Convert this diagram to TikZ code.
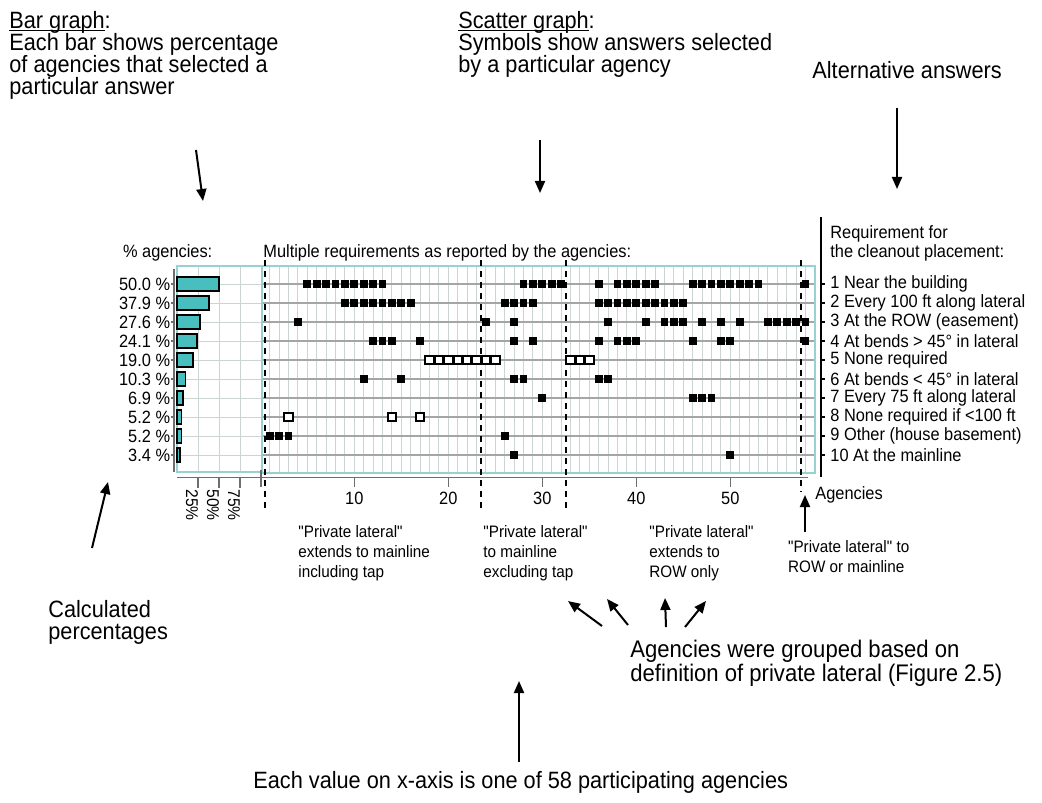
\documentclass[tikz,border=0pt]{standalone}
\usepackage{fontspec}
\setmainfont{Liberation Sans}[FakeStretch=0.92, Ligatures=TeXOff]
\usetikzlibrary{arrows.meta}
\setlength{\lineskiplimit}{-20pt}

\definecolor{barteal}{RGB}{72,190,190}
\definecolor{framecyan}{RGB}{150,210,210}
\definecolor{gridgray}{RGB}{205,212,212}
\definecolor{rowgray}{RGB}{165,165,165}
\definecolor{axisgray}{RGB}{110,110,110}

% underline close to the baseline
\newcommand{\headline}[1]{\setbox0\hbox{#1}\rlap{\rule[-1.3pt]{\wd0}{0.6pt}}\box0}

\tikzset{
  big/.style={font=\fontsize{11.8}{11}\selectfont, inner sep=0pt, align=left},
  lbl/.style={font=\fontsize{8.9}{9.5}\selectfont, inner sep=0pt},
  small/.style={font=\fontsize{8.5}{9}\selectfont, inner sep=0pt},
  grp/.style={font=\fontsize{8.3}{10}\selectfont, inner sep=0pt, align=left},
  pointer/.style={line width=1pt, -{Triangle[length=6pt,width=5pt]}},
  hit/.style={fill=black},
  openhit/.style={fill=white, draw=black, line width=1pt},
  split/.style={black, line width=1.1pt, dash pattern=on 3pt off 2.5pt},
}

\begin{document}
\begin{tikzpicture}[x=0.5pt, y=-0.5pt]
  \useasboundingbox (0,0) rectangle (1042,802);

  % explanations
  \node[big, anchor=north west] (bargraph) at (9,11)
    {\headline{Bar graph}:\\Each bar shows percentage\\of agencies that selected a\\particular answer};
  \node[big, anchor=north west] (scattergraph) at (458,11)
    {\headline{Scatter graph}:\\Symbols show answers selected\\by a particular agency};
  \node[big, anchor=base west] (alternatives) at (812,79) {Alternative answers};
  \node[big, anchor=north west] (calculated) at (48,600) {Calculated\\percentages};
  \node[big, anchor=north west, font=\fontsize{12}{12}\selectfont] (grouped) at (630,640)
    {Agencies were grouped based on\\definition of private lateral (Figure 2.5)};
  \node[big, anchor=base west] (eachvalue) at (253,788)
    {Each value on x-axis is one of 58 participating agencies};

  % bar panel
  \foreach \p in {25,50,75}
    \draw[gridgray, line width=0.5pt] ({177+0.84*\p},266) -- ({177+0.84*\p},472);
  \foreach \r in {1,...,10}
    \draw[gridgray, line width=0.5pt] (177,{265+19*\r}) -- (262,{265+19*\r});
  \draw[framecyan, line width=0.7pt] (177,266) rectangle (262,472);
  \foreach \r/\p in {1/50.0,2/37.9,3/27.6,4/24.1,5/19.0,6/10.3,7/6.9,8/5.2,9/5.2,10/3.4} {
    \draw[fill=barteal, line width=0.8pt] (177,{265+19*\r-7}) rectangle ({177+0.84*\p},{265+19*\r+7});
    \draw[axisgray, line width=0.6pt] (171,{265+19*\r}) -- (174,{265+19*\r});
    \node[lbl, anchor=east] (pct\r) at (170.5,{265+19*\r}) {\p{} \%};
  }
  \draw[axisgray, line width=0.7pt] (174,269) -- (174,472);
  \node[lbl, anchor=west] (sharehead) at (122.7,253) {\% agencies:};

  % scatter panel
  \foreach \a in {1,...,58}
    \draw[gridgray, line width=0.5pt] ({260.3+9.4*\a},266) -- ({260.3+9.4*\a},473);
  \foreach \r in {1,...,10}
    \draw[rowgray, line width=0.6pt] (262,{265+19*\r}) -- (815,{265+19*\r});
  \draw[framecyan, line width=0.7pt] (262,266) rectangle (815,473);
  \node[lbl, anchor=west] (multihead) at (263,253) {Multiple requirements as reported by the agencies:};

  % axes
  \draw[axisgray, line width=0.8pt] (177,477.5) -- (808,477.5);
  \draw[axisgray, line width=0.8pt] (261,470) -- (261,487);
  \foreach \p in {25,50,75} {
    \draw[axisgray, line width=0.8pt] ({177+0.84*\p},477.5) -- ++(0,10);
    \node[small, rotate=-90, anchor=west] (share\p) at ({171+0.84*\p},489) {\p\%};
  }
  \foreach \t in {10,20,...,50} {
    \draw[axisgray, line width=0.8pt] ({260.3+9.4*\t},477.5) -- ++(0,9);
    \node[lbl] (tick\t) at ({260.3+9.4*\t},498) {\t};
  }
  \node[lbl, anchor=west] (agencies) at (815,495) {Agencies};

  % answers per agency
  \foreach \r/\list in {
      1/{5,6,7,8,9,10,11,12,13,28,29,30,31,32,36,38,39,40,41,42,46,47,48,49,50,51,52,53,58},
      2/{9,10,11,12,13,14,15,16,26,27,28,29,36,37,38,39,40,41,42,43,44,45},
      3/{4,24,27,37,41,43,44,45,47,49,51,54,55,56,57,58},
      4/{12,13,14,17,27,29,36,38,39,40,46,49,50,58},
      6/{11,15,27,28,36,37},
      7/{30,46,47,48},
      9/{1,2,3,26},
      10/{27,50}}
    \foreach \a in \list
      \fill[hit] ({260.3+9.4*\a-3.9},{265+19*\r-3.9}) rectangle ++(7.8,7.8);
  \foreach \r/\list in {5/{18,19,20,21,22,23,24,25,33,34,35}, 8/{3,14,17}}
    \foreach \a in \list
      \draw[openhit] ({260.3+9.4*\a-4.2},{265+19*\r-4.2}) rectangle ++(8.4,8.4);

  % group borders
  \foreach \s in {0.5,23.5,32.5}
    \draw[split] ({260.3+9.4*\s},260) -- ++(0,252);
  \draw[split] ({260.3+9.4*57.5},260) -- ++(0,232);

  % legend of answers
  \draw[black, line width=0.8pt] (820.7,217) -- (820.7,477);
  \node[lbl, align=left, anchor=west] (reqtitle) at (830,243) {Requirement for\\the cleanout placement:};
  \foreach \r/\txt in {1/1 Near the building, 2/2 Every 100 ft along lateral,
      3/3 At the ROW (easement), 4/4 At bends > 45° in lateral, 5/5 None required,
      6/6 At bends < 45° in lateral, 7/7 Every 75 ft along lateral,
      8/8 None required if <100 ft, 9/9 Other (house basement), 10/10 At the mainline} {
    \draw[black, line width=0.6pt] (820.7,{265+19*\r}) -- (824.5,{265+19*\r});
    \node[lbl, anchor=west] (req\r) at (830,{265+19*\r}) {\txt};
  }

  % group names
  \node[grp, anchor=west] (grpA) at (298,553.5) {"Private lateral"\\extends to mainline\\including tap};
  \node[grp, anchor=west] (grpB) at (483,553.5) {"Private lateral"\\to mainline\\excluding tap};
  \node[grp, anchor=west] (grpC) at (649,553.5) {"Private lateral"\\extends to\\ROW only};
  \node[grp, anchor=west] (grpD) at (787.7,557) {"Private lateral" to\\ROW or mainline};

  % pointers
  \coordinate (barFrom) at (196,150);   \coordinate (barTo) at (203,201);
  \coordinate (scatFrom) at (540,140);  \coordinate (scatTo) at (540,193);
  \coordinate (altFrom) at (897,108);   \coordinate (altTo) at (897,189);
  \coordinate (calcFrom) at (92,548);   \coordinate (calcTo) at (108,482);
  \coordinate (valueFrom) at (519,762); \coordinate (valueTo) at (519,681);
  \coordinate (rowFrom) at (805,532);   \coordinate (rowTo) at (805,495);
  \draw[pointer] (barFrom) -- (barTo);
  \draw[pointer] (scatFrom) -- (scatTo);
  \draw[pointer] (altFrom) -- (altTo);
  \draw[pointer] (calcFrom) -- (calcTo);
  \draw[pointer] (valueFrom) -- (valueTo);
  \draw[pointer] (rowFrom) -- (rowTo);
  \foreach \i/\fx/\fy/\tx/\ty in {1/602/626/568/601, 2/628/625/607/599, 3/666/627/665/598, 4/685/627/706/601} {
    \coordinate (grpFrom\i) at (\fx,\fy);
    \coordinate (grpTo\i) at (\tx,\ty);
    \draw[pointer] (grpFrom\i) -- (grpTo\i);
  }
\end{tikzpicture}
\end{document}
